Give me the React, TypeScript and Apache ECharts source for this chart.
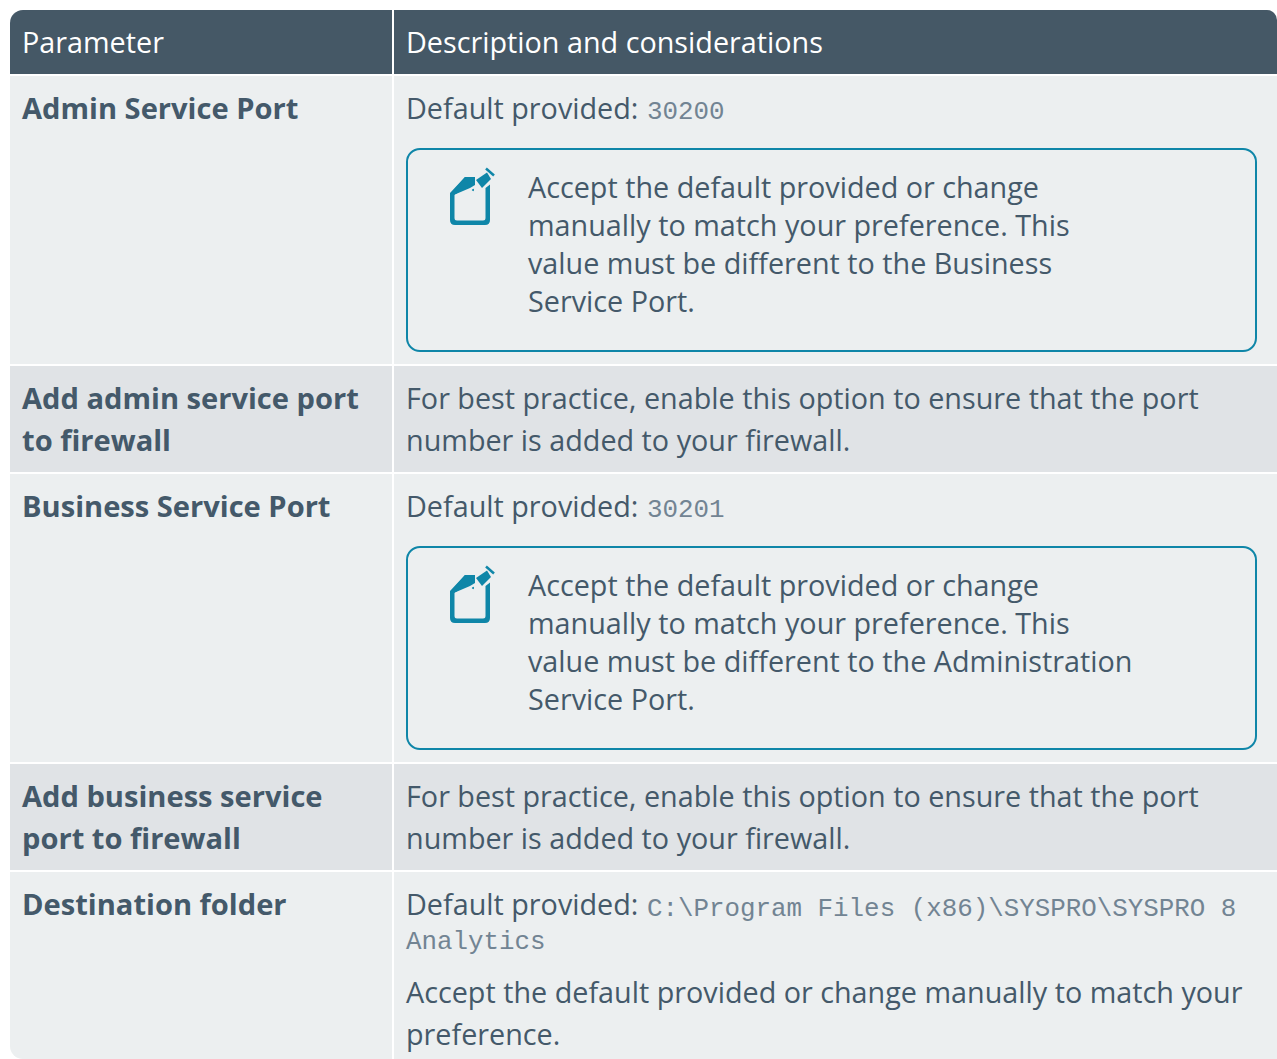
import React, { useEffect, useRef } from "react";
import * as echarts from "echarts";

const headers = ["Parameter", "Description and considerations"];
const paramRows = [
  ["Admin Service Port"],
  ["Add admin service port", "to firewall"],
  ["Business Service Port"],
  ["Add business service", "port to firewall"],
  ["Destination folder"],
];
const firewallAdmin = ["For best practice, enable this option to ensure that the port", "number is added to your firewall."];
const firewallBusiness = ["For best practice, enable this option to ensure that the port", "number is added to your firewall."];
const defaultLabel = "Default provided:";
const adminPort = "30200";
const businessPort = "30201";
const adminNote = ["Accept the default provided or change", "manually to match your preference. This", "value must be different to the Business", "Service Port."];
const businessNote = ["Accept the default provided or change", "manually to match your preference. This", "value must be different to the Administration", "Service Port."];
const folderPath = ["C:\\Program Files (x86)\\SYSPRO\\SYSPRO 8", "Analytics"];
const folderNote = ["Accept the default provided or change manually to match your", "preference."];

const SANS = '"Open Sans", sans-serif';
const MONO = '"Liberation Mono", monospace';
const INK = "#44596a";
const TEAL = "#0f86a8";
const HEAD = "#455866";
const LIGHT = "#ecEFF0";
const DARK = "#e0e3e6";
const FS = 28.75;
const FSB = 29.1;
const OFF = -1.5;

echarts.graphic.registerShape(
  "noteBody",
  echarts.graphic.extendPath(
    "M450 193 L465 177 L475 177 L472 182 L454.500 195 L454.500 218 Q454.500 220.500 457 220.500 L483 220.500 Q485.500 220.500 485.500 218 L485.500 188 L490 184.500 L490 220 Q490 225 485 225 L455 225 Q450 225 450 220 Z",
    {}
  )
);

function txt(x: number, y: number, text: string, extra: any = {}) {
  return {
    type: "text",
    x,
    y: y + OFF,
    silent: true,
    style: { text, fill: INK, font: `${FS}px ${SANS}`, verticalAlign: "middle", align: "left", ...extra },
  };
}

function icon(dy: number) {
  const base = [
    { type: "noteBody", style: { fill: TEAL } },
    { type: "polygon", shape: { points: [[451, 193], [465, 177], [475, 177], [475, 185], [470, 188], [456, 194]] }, style: { fill: TEAL } },
    { type: "polygon", shape: { points: [[487, 172.500], [491, 179], [482, 188], [476, 180]] }, style: { fill: TEAL } },
    { type: "line", shape: { x1: 486, y1: 168.500, x2: 494, y2: 175.500 }, style: { stroke: TEAL, lineWidth: 2.5 } },
    { type: "circle", shape: { cx: 473, cy: 190, r: 1 }, style: { fill: TEAL } },
  ];
  return { type: "group", x: 0, y: dy, silent: true, children: base };
}

function callout(y: number) {
  return {
    type: "rect",
    silent: true,
    shape: { x: 407, y, width: 849, height: 202, r: 13 },
    style: { fill: "transparent", stroke: TEAL, lineWidth: 2 },
  };
}

function lines(x: number, ys: number[], text: string[], extra: any = {}) {
  return text.map((t, i) => txt(x, ys[i], t, extra));
}

export default function App() {
  const ref = useRef<HTMLDivElement>(null);
  useEffect(() => {
    document.body.style.margin = "0";
    const chart = echarts.init(ref.current!, null, { renderer: "svg" });
    const X1 = 22;
    const X2 = 406;
    const XN = 528;
    const bold = { font: `bold ${FSB}px ${SANS}` };
    const mono = { font: `25.85px ${MONO}`, fill: "#728493" };
    const rowBands = [
      [76, 288, LIGHT],
      [366, 106, DARK],
      [474, 288, LIGHT],
      [764, 106, DARK],
      [872, 187, LIGHT],
    ] as [number, number, string][];
    const cell = (x: number, y: number, w: number, h: number, fill: string, r: any = 0) => ({
      type: "rect",
      silent: true,
      shape: { x, y, width: w, height: h, r },
      style: { fill },
    });
    const elements: any[] = [
      cell(10, 10, 382, 64, HEAD, [13, 0, 0, 0]),
      cell(394, 10, 883, 64, HEAD, [0, 10, 0, 0]),
      ...rowBands.flatMap(([y, h, fill], i) => [
        cell(10, y, 382, h, fill, i === 4 ? [0, 0, 0, 13] : 0),
        cell(394, y, 883, h, fill),
      ]),
      txt(X1, 43, headers[0], { fill: "#ffffff" }),
      txt(X2, 43, headers[1], { fill: "#ffffff" }),
      ...lines(X1, [109], paramRows[0], bold),
      ...lines(X1, [399, 441], paramRows[1], bold),
      ...lines(X1, [507], paramRows[2], bold),
      ...lines(X1, [797, 839], paramRows[3], bold),
      ...lines(X1, [905], paramRows[4], bold),
      txt(X2, 109, defaultLabel),
      txt(647, 113, adminPort, mono),
      callout(149),
      icon(0),
      ...lines(XN, [188, 226, 264, 302], adminNote),
      ...lines(X2, [399, 441], firewallAdmin),
      txt(X2, 507, defaultLabel),
      txt(647, 511, businessPort, mono),
      callout(547),
      icon(398),
      ...lines(XN, [586, 624, 662, 700], businessNote),
      ...lines(X2, [797, 839], firewallBusiness),
      txt(X2, 905, defaultLabel),
      txt(647, 910, folderPath[0], mono),
      txt(X2, 943, folderPath[1], mono),
      ...lines(X2, [993, 1035], folderNote),
    ];
    chart.setOption({ animation: false, graphic: { elements } });
    return () => chart.dispose();
  }, []);
  return <div ref={ref} style={{ position: "absolute", left: 0, top: 0, width: 1277, height: 1059 }} />;
}
